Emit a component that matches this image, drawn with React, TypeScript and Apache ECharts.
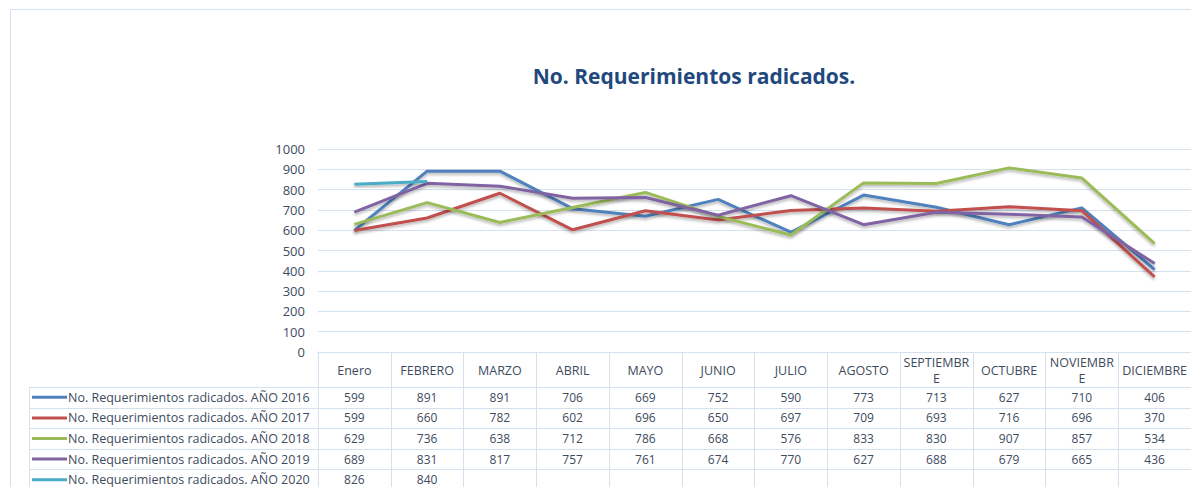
import React, { useEffect, useRef } from "react";
import * as echarts from "echarts";

const months = ["Enero", "FEBRERO", "MARZO", "ABRIL", "MAYO", "JUNIO", "JULIO", "AGOSTO", "SEPTIEMBRE", "OCTUBRE", "NOVIEMBRE", "DICIEMBRE"];
const headerLabels = ["Enero", "FEBRERO", "MARZO", "ABRIL", "MAYO", "JUNIO", "JULIO", "AGOSTO", "SEPTIEMBR\nE", "OCTUBRE", "NOVIEMBR\nE", "DICIEMBRE"];
const seriesNames = [
  "No. Requerimientos radicados. AÑO 2016",
  "No. Requerimientos radicados. AÑO 2017",
  "No. Requerimientos radicados. AÑO 2018",
  "No. Requerimientos radicados. AÑO 2019",
  "No. Requerimientos radicados. AÑO 2020",
];
const y2016 = [599, 891, 891, 706, 669, 752, 590, 773, 713, 627, 710, 406];
const y2017 = [599, 660, 782, 602, 696, 650, 697, 709, 693, 716, 696, 370];
const y2018 = [629, 736, 638, 712, 786, 668, 576, 833, 830, 907, 857, 534];
const y2019 = [689, 831, 817, 757, 761, 674, 770, 627, 688, 679, 665, 436];
const y2020 = [826, 840, null, null, null, null, null, null, null, null, null, null];
const yTicks = { min: 0, max: 1000, interval: 100 };
const titleText = "No. Requerimientos radicados.";

const seriesData = [y2016, y2017, y2018, y2019, y2020];
const colors = ["#4F81BD", "#C0504D", "#9BBB59", "#8064A2", "#4BACC6"];

export default function App() {
  const ref = useRef<HTMLDivElement>(null);
  useEffect(() => {
    if (!ref.current) return;
    const chart = echarts.init(ref.current, undefined, { renderer: "svg" });
    const gridTop = 149;
    const axisY = 352;
    const rowH = 20.6;
    const firstLine = 387;
    const border = "#D5E1EF";
    const txt = "#3E4B5E";
    const font = "Open Sans";

    const rowAxes = seriesData.map((d, k) => ({
      type: "category",
      gridIndex: 0,
      position: "bottom",
      offset: firstLine + rowH / 2 + rowH * k - axisY,
      data: d.map((v) => (v == null ? "" : String(v))),
      axisLine: { show: false },
      axisTick: { show: false },
      splitLine: { show: false },
      axisLabel: { interval: 0, margin: 0, verticalAlign: "middle", fontSize: 12, color: txt, fontFamily: font },
    }));

    const graphics: any[] = [
      { type: "rect", shape: { x: 10.5, y: 9.5, width: 1400, height: 600 }, style: { fill: "none", stroke: border, lineWidth: 1 }, silent: true },
      { type: "line", shape: { x1: 29.5, y1: firstLine, x2: 29.5, y2: 500 }, style: { stroke: border, lineWidth: 1 } },
    ];
    for (let j = 0; j <= seriesData.length; j++) {
      const y = Math.round(firstLine + rowH * j) + 0.5;
      graphics.push({ type: "line", shape: { x1: 29, y1: y, x2: 1200, y2: y }, style: { stroke: border, lineWidth: 1 } });
    }
    seriesNames.forEach((n, k) => {
      const cy = firstLine + rowH / 2 + rowH * k;
      graphics.push({ type: "line", shape: { x1: 32, y1: cy, x2: 67, y2: cy }, style: { stroke: colors[k], lineWidth: 3 } });
      graphics.push({
        type: "text",
        x: 68,
        y: cy,
        style: { text: n, fill: txt, fontSize: 12.5, fontFamily: font, verticalAlign: "middle", align: "left" },
      });
    });

    chart.setOption({
      animation: false,
      backgroundColor: "#ffffff",
      title: {
        text: titleText,
        left: 689,
        top: 60,
        textAlign: "center",
        textStyle: { color: "#1F497D", fontSize: 21, fontWeight: "bold", fontFamily: font },
      },
      grid: { left: 318, top: gridTop, width: 882, height: axisY - gridTop },
      xAxis: [
        {
          type: "category",
          gridIndex: 0,
          position: "bottom",
          data: headerLabels,
          boundaryGap: true,
          axisLine: { lineStyle: { color: border, width: 1 } },
          axisTick: { show: true, interval: 0, length: 140, lineStyle: { color: border, width: 1 } },
          axisLabel: { interval: 0, margin: 18, verticalAlign: "middle", fontSize: 12.5, lineHeight: 16, color: txt, fontFamily: font },
          splitLine: { show: false },
        },
        ...rowAxes,
      ],
      yAxis: {
        type: "value",
        min: yTicks.min,
        max: yTicks.max,
        interval: yTicks.interval,
        axisLine: { show: false },
        axisTick: { show: false },
        axisLabel: { margin: 13, fontSize: 13, color: txt, fontFamily: font, formatter: (v: number) => String(v) },
        splitLine: { lineStyle: { color: border, width: 1 } },
      },
      series: seriesData.map((d, k) => ({
        name: seriesNames[k],
        type: "line",
        xAxisIndex: 0,
        data: d,
        symbol: "none",
        connectNulls: false,
        lineStyle: { color: colors[k], width: 3, shadowBlur: 3, shadowColor: "rgba(0,0,0,0.3)", shadowOffsetY: 2 },
        itemStyle: { color: colors[k] },
      })),
      graphic: graphics,
    });
    return () => chart.dispose();
  }, []);
  return <div ref={ref} style={{ position: "absolute", left: 0, top: 0, width: 1191, height: 487, background: "#fff" }} />;
}
